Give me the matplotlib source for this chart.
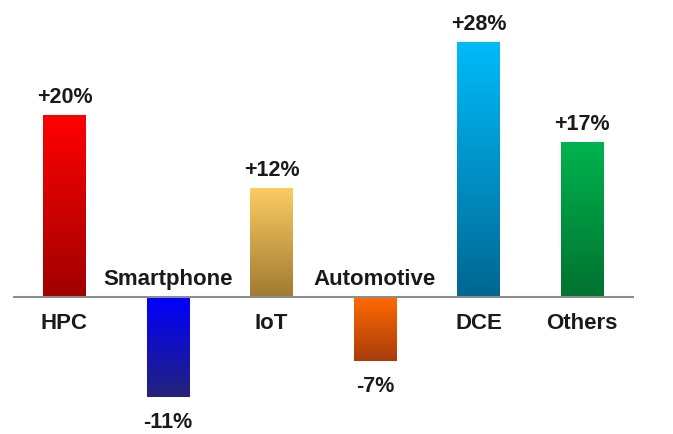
import numpy as np
import matplotlib.pyplot as plt
from matplotlib.colors import LinearSegmentedColormap

plt.rcParams['font.family'] = ['Liberation Sans', 'DejaVu Sans']

# Дані
categories = ['HPC', 'Smartphone', 'IoT', 'Automotive', 'DCE', 'Others']
growth = [20, -11, 12, -7, 28, 17]
value_labels = ['+20%', '-11%', '+12%', '-7%', '+28%', '+17%']
top_colors = ['#ff0000', '#0000ff', '#fbcd62', '#ff6a00', '#00bbf9', '#00b34f']
bottom_colors = ['#a00000', '#24237a', '#a17a33', '#a83c0c', '#006793', '#007230']

fig = plt.figure(figsize=(6.73, 4.34), dpi=100)
ax = fig.add_axes([12.75 / 673, 0, 621 / 673, 1])

x = np.arange(len(categories))
bars = ax.bar(x, growth, width=0.415, color='none', edgecolor='none', zorder=2)

# градієнт усередині кожного стовпця
grad = np.linspace(1, 0, 256).reshape(-1, 1)
for bar, c_top, c_bot in zip(bars, top_colors, bottom_colors):
    cmap = LinearSegmentedColormap.from_list('g', [c_bot, c_top])
    x0, w = bar.get_x(), bar.get_width()
    y0, h = bar.get_y(), bar.get_height()
    lo, hi = min(y0, y0 + h), max(y0, y0 + h)
    im = ax.imshow(grad, cmap=cmap, aspect='auto', extent=[x0, x0 + w, lo, hi],
                   origin='upper', zorder=2)
    im.set_clip_path(bar)

ax.axhline(0, color='#8c8c8c', lw=1.5, zorder=3)

px = 72 / fig.dpi  # points per pixel
for i, (v, lab, cat) in enumerate(zip(growth, value_labels, categories)):
    if v > 0:
        ax.annotate(lab, (i, v), xytext=(0, 12 * px), textcoords='offset points',
                    ha='center', va='baseline', fontsize=15.5, fontweight='bold', color='#1a1a1a')
        ax.annotate(cat, (i, 0), xytext=(0, -16 * px), textcoords='offset points',
                    ha='center', va='top', fontsize=16, fontweight='bold', color='#1a1a1a')
    else:
        ax.annotate(lab, (i, v), xytext=(0, -15 * px), textcoords='offset points',
                    ha='center', va='top', fontsize=15.5, fontweight='bold', color='#1a1a1a')
        ax.annotate(cat, (i, 0), xytext=(0, 12 * px), textcoords='offset points',
                    ha='center', va='baseline', fontsize=16, fontweight='bold', color='#1a1a1a')

ax.set_xlim(-0.5, 5.5)
ax.set_ylim(-15.05, 32.64)
ax.axis('off')

fig.savefig('out.png', dpi=100)
